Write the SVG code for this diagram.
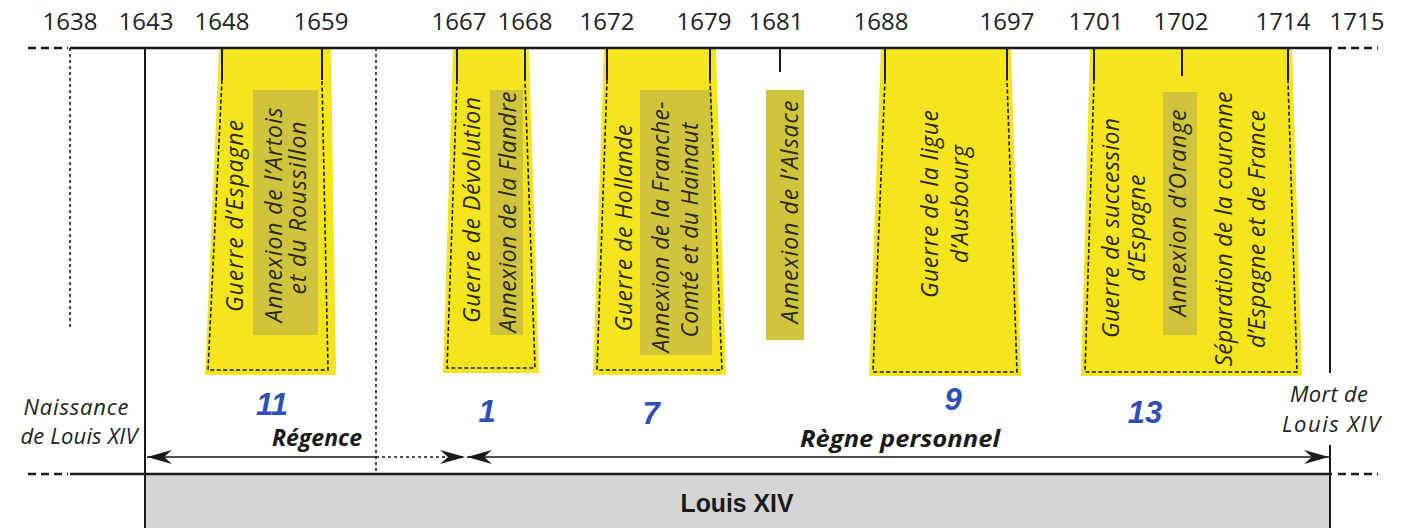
<svg xmlns="http://www.w3.org/2000/svg" width="1404" height="528" viewBox="0 0 1404 528">
<style>
.yr{font-family:"Open Sans","Liberation Sans",sans-serif;font-size:24px;fill:#222;text-anchor:middle}
.vt{font-family:"Open Sans","Liberation Sans",sans-serif;font-size:23px;font-style:italic;fill:#2a2a1a;text-anchor:middle}
.it{font-family:"Open Sans","Liberation Sans",sans-serif;font-size:22px;font-style:italic;fill:#222;text-anchor:middle}
.bi{font-family:"Open Sans","Liberation Sans",sans-serif;font-size:24px;font-style:italic;font-weight:bold;fill:#1a1a1a;text-anchor:middle}
.hw{font-family:"Liberation Sans",sans-serif;font-size:31px;font-weight:bold;font-style:italic;fill:#2f4fb5;text-anchor:middle}
.hl{fill:#f5e51c}
.hl2{fill:#cfc43c}
.solid{stroke:#1a1a1a;stroke-width:2;fill:none}
.dash{stroke:#1a1a1a;stroke-width:1.6;fill:none;stroke-dasharray:4 2.5}
.dot{stroke:#1a1a1a;stroke-width:1.6;fill:none;stroke-dasharray:3 3}
.axis{stroke:#1a1a1a;stroke-width:2.5;fill:none}
.axd{stroke:#1a1a1a;stroke-width:2.5;fill:none;stroke-dasharray:8 5}
</style>
<defs>
<marker id="ah" viewBox="-26 -8 28 16" refX="0" refY="0" markerWidth="28" markerHeight="16" markerUnits="userSpaceOnUse" orient="auto-start-reverse">
<path d="M0,0 L-25,-7 L-17,0 L-25,7 Z" fill="#1a1a1a" stroke="none"/>
</marker>
</defs>
<rect width="1404" height="528" fill="#ffffff"/>

<g id="highlights">
<polygon class="hl" points="219,49 331,49 336,375 205,375"/>
<rect class="hl2" x="253" y="90" width="65" height="245"/>
<polygon class="hl" points="453,49 529,49 539,373 443,373"/>
<rect class="hl2" x="490" y="90" width="33" height="245"/>
<polygon class="hl" points="604,49 716,49 726,375 593,375"/>
<rect class="hl2" x="640" y="90" width="72" height="265"/>
<rect class="hl2" x="766" y="90" width="38" height="250"/>
<polygon class="hl" points="881,49 1011,49 1021,376 869,376"/>
<polygon class="hl" points="1090,49 1292,49 1302,376 1081,376"/>
<rect class="hl2" x="1163" y="92" width="34" height="243"/>
</g>

<rect id="band" x="145" y="474" width="1185" height="54" fill="#d5d5d5"/>

<g id="axis">
<line class="axd" x1="28" y1="48" x2="68" y2="48"/>
<line class="axis" x1="70" y1="48" x2="1332" y2="48"/>
<line class="axd" x1="1338" y1="48" x2="1378" y2="48"/>
<line class="axd" x1="28" y1="474" x2="68" y2="474"/>
<line class="axis" x1="70" y1="474" x2="1332" y2="474"/>
<line class="axd" x1="1338" y1="474" x2="1378" y2="474"/>
<line class="dot" x1="70" y1="48" x2="70" y2="328"/>
<line class="solid" x1="145" y1="48" x2="145" y2="528"/>
<line class="dot" x1="376" y1="48" x2="376" y2="474"/>
<line class="solid" x1="1330" y1="48" x2="1330" y2="373"/>
<line class="solid" x1="1330" y1="445" x2="1330" y2="528"/>
<line class="solid" x1="780" y1="48" x2="780" y2="72"/>
<line class="solid" x1="1182" y1="48" x2="1182" y2="76"/>
</g>

<g id="years">
<text class="yr" x="70" y="30">1638</text>
<text class="yr" x="146" y="30">1643</text>
<text class="yr" x="222" y="30">1648</text>
<text class="yr" x="321" y="30">1659</text>
<text class="yr" x="459" y="30">1667</text>
<text class="yr" x="525" y="30">1668</text>
<text class="yr" x="607" y="30">1672</text>
<text class="yr" x="704" y="30">1679</text>
<text class="yr" x="776" y="30">1681</text>
<text class="yr" x="881" y="30">1688</text>
<text class="yr" x="1007" y="30">1697</text>
<text class="yr" x="1096" y="30">1701</text>
<text class="yr" x="1181" y="30">1702</text>
<text class="yr" x="1283" y="30">1714</text>
<text class="yr" x="1357" y="30">1715</text>
</g>

<g id="p1648">
<path class="solid" d="M222,48 V80 M322,48 V80"/>
<path class="dash" d="M222,80 L208,370 L328,370 L322,80"/>
<text class="vt" transform="translate(243,216) rotate(-90)" textLength="192" lengthAdjust="spacing">Guerre d’Espagne</text>
<text class="vt" transform="translate(282,215) rotate(-90)" textLength="215" lengthAdjust="spacing">Annexion de l’Artois</text>
<text class="vt" transform="translate(306,208) rotate(-90)" textLength="173" lengthAdjust="spacing">et du Roussillon</text>
</g>

<g id="p1667">
<path class="solid" d="M457,48 V80 M525,48 V80"/>
<path class="dash" d="M457,80 L447,368 L535,368 L525,80"/>
<text class="vt" transform="translate(480,210) rotate(-90)" textLength="226" lengthAdjust="spacing">Guerre de Dévolution</text>
<text class="vt" transform="translate(516,212) rotate(-90)" textLength="241" lengthAdjust="spacing">Annexion de la Flandre</text>
</g>

<g id="p1672">
<path class="solid" d="M607,48 V80 M710,48 V80"/>
<path class="dash" d="M607,80 L597,370 L722,370 L710,80"/>
<text class="vt" transform="translate(632,228) rotate(-90)" textLength="207" lengthAdjust="spacing">Guerre de Hollande</text>
<text class="vt" transform="translate(669,227) rotate(-90)" textLength="251" lengthAdjust="spacing">Annexion de la Franche-</text>
<text class="vt" transform="translate(698,230) rotate(-90)" textLength="215" lengthAdjust="spacing">Comté et du Hainaut</text>
</g>

<g id="p1681">
<text class="vt" transform="translate(798,212) rotate(-90)" textLength="223" lengthAdjust="spacing">Annexion de l’Alsace</text>
</g>

<g id="p1688">
<path class="solid" d="M885,48 V80 M1007,48 V80"/>
<path class="dash" d="M885,80 L873,372 L1017,372 L1007,80"/>
<text class="vt" transform="translate(938,204) rotate(-90)" textLength="188" lengthAdjust="spacing">Guerre de la ligue</text>
<text class="vt" transform="translate(968,204) rotate(-90)" textLength="118" lengthAdjust="spacing">d’Ausbourg</text>
</g>

<g id="p1701">
<path class="solid" d="M1094,48 V80 M1288,48 V80"/>
<path class="dash" d="M1094,80 L1085,372 L1297,372 L1288,80"/>
<text class="vt" transform="translate(1119,228) rotate(-90)" textLength="220" lengthAdjust="spacing">Guerre de succession</text>
<text class="vt" transform="translate(1145,228) rotate(-90)" textLength="107" lengthAdjust="spacing">d’Espagne</text>
<text class="vt" transform="translate(1186,213) rotate(-90)" textLength="207" lengthAdjust="spacing">Annexion d’Orange</text>
<text class="vt" transform="translate(1232,229) rotate(-90)" textLength="275" lengthAdjust="spacing">Séparation de la couronne</text>
<text class="vt" transform="translate(1265,229) rotate(-90)" textLength="238" lengthAdjust="spacing">d’Espagne et de France</text>
</g>

<g id="naissance">
<text class="it" x="76" y="415" textLength="105" lengthAdjust="spacing">Naissance</text>
<text class="it" x="79" y="444" textLength="117" lengthAdjust="spacing">de Louis XIV</text>
</g>
<g id="mort">
<text class="it" x="1329" y="402" textLength="78" lengthAdjust="spacing">Mort de</text>
<text class="it" x="1331" y="432" textLength="98" lengthAdjust="spacing">Louis XIV</text>
</g>

<g id="regence">
<text class="bi" x="317" y="446" textLength="90" lengthAdjust="spacingAndGlyphs">Régence</text>
</g>
<g id="regne">
<text class="bi" x="900" y="447" textLength="200" lengthAdjust="spacingAndGlyphs">Règne personnel</text>
</g>

<g id="louis">
<text x="737" y="512" font-family="'Liberation Sans',sans-serif" font-size="25" font-weight="bold" fill="#1a1a1a" text-anchor="middle" textLength="113" lengthAdjust="spacingAndGlyphs">Louis XIV</text>
</g>

<g id="annotations">
<text class="hw" x="272" y="415">11</text>
<text class="hw" x="487" y="422">1</text>
<text class="hw" x="651" y="424">7</text>
<text class="hw" x="953" y="410">9</text>
<text class="hw" x="1145" y="423">13</text>
</g>

<g id="connectors">
<line x1="147" y1="457" x2="376" y2="457" stroke="#1a1a1a" stroke-width="1.6" marker-start="url(#ah)"/>
<line x1="376" y1="457" x2="465" y2="457" stroke="#1a1a1a" stroke-width="1.6" stroke-dasharray="3 3" marker-end="url(#ah)"/>
<line x1="467" y1="457" x2="1329" y2="457" stroke="#1a1a1a" stroke-width="1.6" marker-start="url(#ah)" marker-end="url(#ah)"/>
</g>
</svg>
